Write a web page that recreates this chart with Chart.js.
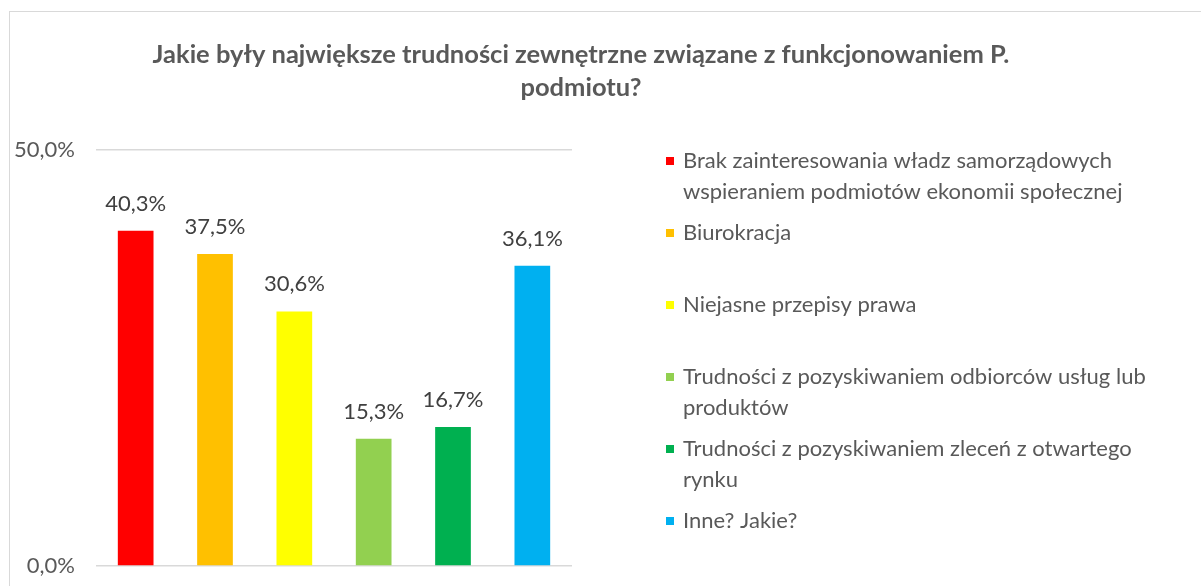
<!DOCTYPE html>
<html>
<head>
<meta charset="utf-8">
<script src="https://cdn.jsdelivr.net/npm/chart.js@4/dist/chart.umd.min.js"></script>
<style>
  html, body { margin: 0; padding: 0; background: #fff; overflow: hidden; }
  #wrap { position: relative; width: 1201px; height: 586px; }
</style>
</head>
<body>
<div id="wrap"><canvas id="chart" width="1201" height="586"></canvas></div>
<script>
// Chart data
const categories = [
    ['Brak zainteresowania władz samorządowych', 'wspieraniem podmiotów ekonomii społecznej'],
    ['Biurokracja'],
    ['Niejasne przepisy prawa'],
    ['Trudności z pozyskiwaniem odbiorców usług lub', 'produktów'],
    ['Trudności z pozyskiwaniem zleceń z otwartego', 'rynku'],
    ['Inne? Jakie?']
];
const values = [40.3, 37.5, 30.6, 15.3, 16.7, 36.1];
const barColors = ['#FF0000', '#FFC000', '#FFFF00', '#92D050', '#00B050', '#00B0F0'];
const yTicks = [0, 50];
const titleLines = ['Jakie były największe trudności zewnętrzne związane z funkcjonowaniem P.', 'podmiotu?'];

const textColor = '#595959';
const fontFamily = 'Lato, "Open Sans", sans-serif';

// Formats 40.3 -> "40,3%"
function pct(v) {
    return v.toFixed(1).replace('.', ',') + '%';
}

// Draws frame, title, value labels and the custom legend
const decorPlugin = {
    id: 'decor',
    beforeDraw(chart) {
        const ctx = chart.ctx;
        ctx.save();
        ctx.strokeStyle = '#d9d9d9';
        ctx.lineWidth = 1;
        ctx.strokeRect(9.5, 11.5, 1400, 800);
        ctx.restore();
    },
    afterDatasetsDraw(chart) {
        const ctx = chart.ctx;
        const meta = chart.getDatasetMeta(0);
        ctx.save();
        ctx.font = '22px ' + fontFamily;
        ctx.fillStyle = '#404040';
        ctx.textAlign = 'center';
        ctx.textBaseline = 'alphabetic';
        meta.data.forEach((bar, i) => {
            ctx.fillText(pct(values[i]), bar.x, bar.y - 20);
        });
        ctx.restore();
    },
    afterDraw(chart) {
        const ctx = chart.ctx;
        ctx.save();
        // title
        ctx.font = 'bold 25.5px ' + fontFamily;
        ctx.fillStyle = textColor;
        ctx.textAlign = 'center';
        ctx.textBaseline = 'middle';
        titleLines.forEach((line, i) => ctx.fillText(line, 581, 55 + i * 33));

        // legend
        ctx.font = '22px ' + fontFamily;
        ctx.textAlign = 'left';
        categories.forEach((lines, i) => {
            const y = 161 + i * 72;
            ctx.fillStyle = barColors[i];
            ctx.fillRect(666, y - 4, 8, 8);
            ctx.fillStyle = textColor;
            lines.forEach((line, j) => ctx.fillText(line, 683, y + j * 31));
        });
        ctx.restore();
    }
};

new Chart(document.getElementById('chart'), {
    type: 'bar',
    data: {
        labels: categories,
        datasets: [{
            data: values,
            backgroundColor: barColors,
            categoryPercentage: 1,
            barPercentage: 0.45
        }]
    },
    options: {
        responsive: false,
        animation: false,
        layout: { padding: { left: 0, top: 150, right: 629, bottom: 20 } },
        plugins: {
            legend: { display: false },
            tooltip: { enabled: false }
        },
        scales: {
            x: { display: false },
            y: {
                min: 0,
                max: 50,
                afterBuildTicks: scale => { scale.ticks = yTicks.map(v => ({ value: v })); },
                afterFit: scale => {
                    scale.width = 96;
                    scale.paddingTop = 0;
                    scale.paddingBottom = 0;
                },
                border: { display: false },
                grid: { color: '#d9d9d9', lineWidth: 1.5, drawTicks: false },
                ticks: {
                    padding: 21,
                    color: textColor,
                    font: { family: fontFamily, size: 22 },
                    callback: v => pct(v)
                }
            }
        }
    },
    plugins: [decorPlugin]
});
</script>
</body>
</html>
